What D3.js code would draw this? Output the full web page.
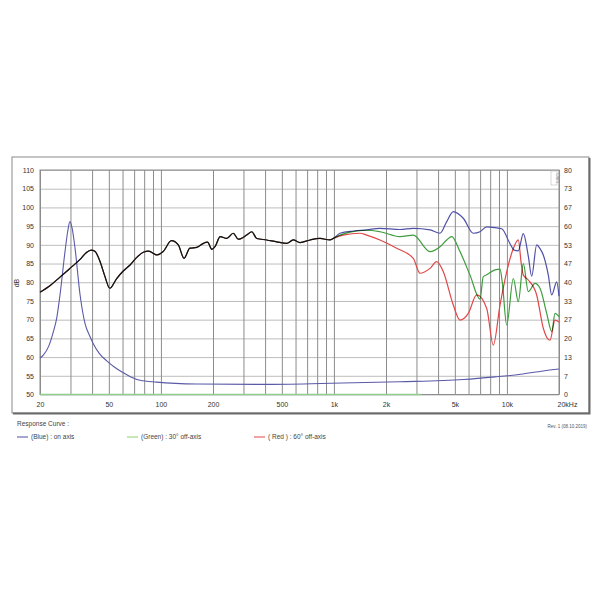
<!DOCTYPE html>
<html><head><meta charset="utf-8">
<script src="https://cdn.jsdelivr.net/npm/d3@7"></script>
<style>body{margin:0;background:#fff}svg{display:block}text{font-family:"Liberation Sans",Arial,sans-serif}</style>
</head><body><svg id="c" width="600" height="600"></svg>
<script>
// ---------- data ----------
const dbTicks = [50,55,60,65,70,75,80,85,90,95,100,105,110];
const ohmLabels = ["0","7","13","20","27","33","40","47","53","60","67","73","80"];
const freqGrid = [20,30,40,50,60,70,80,90,100,200,300,400,500,600,700,800,900,1000,2000,3000,4000,5000,6000,7000,8000,9000,10000,20000];
const freqLabelValues = [20,50,100,200,500,1000,2000,5000,10000,20000];
const freqLabelTexts = ["20","50","100","200","500","1k","2k","5k","10k","20kHz"];

// shared response below ~1 kHz (all three curves overlap)
const commonLow = [[20,77.3],[23,79.2],[26,81.3],[29.8,83.7],[34.1,86.1],[37,87.9],[39.5,88.6],[41.5,88.3],[44.5,85.5],[47.5,81.5],[50.6,78.4],[55.5,81],[60.6,83],[66.3,84.6],[72,86.5],[79.1,88],[85,88.3],[94.5,87.3],[103,88.2],[115,91.1],[126,90],[136,86.4],[147,89.1],[161,89.3],[176,90.4],[186,90.7],[197,88.8],[206,89.6],[220,92.2],[240,91.7],[262,93.1],[280,91.5],[313,92.6],[335,93.5],[358,91.7],[409,91.3],[467,90.8],[533,90.4],[582,91.3],[637,90.6],[727,91.3],[831,91.7],[949,91.3],[1000,91.8]];
const blueOnAxis = [[1084,93.1],[1294,93.7],[1547,94],[1846,94.4],[2410,94.1],[2876,94.4],[3592,94],[4104,93.1],[4488,96.2],[4898,98.9],[5594,97.1],[6394,93.1],[6990,93.5],[7642,94.8],[8532,94.6],[9332,94.3],[10420,90.3],[11000,88.6],[11636,88.4],[12438,93],[13290,87],[13906,81.6],[14860,90],[15532,89],[16226,87.3],[17340,82],[18152,76.6],[19400,80.1],[20000,76.3]];
const green30 = [[1084,92.6],[1239,93.4],[1547,93.9],[1846,93.5],[2410,92.2],[2876,92.6],[3592,88.2],[4104,89.5],[4488,91.3],[4796,92.2],[5354,88.2],[6118,81.9],[6990,75.5],[7300,81.5],[7642,82],[8532,83.3],[9120,83.5],[9400,80],[9970,68.6],[10888,81],[11636,74.8],[12438,85],[13290,77.5],[14532,79.7],[15532,78.4],[16980,71.7],[18152,66.8],[18970,71.7],[20000,70.8]];
const red60 = [[1133,92.6],[1415,93.1],[1547,92.6],[1846,91.3],[2306,89.1],[2876,86.4],[3144,82.4],[3592,83.7],[3926,85.5],[4289,82.8],[4898,73.9],[5354,69.9],[5980,71.7],[6690,76.6],[7642,73],[8342,63.2],[9120,73.9],[9970,82.8],[10888,89],[11636,91.3],[12100,85],[12438,81.9],[13290,80.6],[14860,76.6],[16226,67.7],[17740,64.5],[18970,69.9],[20000,69.4]];
const impedance = [[20,59.7],[20.9,60.5],[22.5,63],[23.9,66.8],[25,70.5],[26.1,76.6],[27.9,88.2],[28.9,93.5],[29.8,96.2],[30.8,94],[31.9,89],[34.1,76.6],[36.4,69],[38.9,65.5],[40.7,63.5],[44,61],[48.6,59],[54,57.3],[60.6,55.8],[67,54.7],[75.7,53.8],[94.5,53.3],[161,52.8],[389,52.7],[949,53],[2400,53.4],[5594,54],[8532,54.7],[12000,55.4],[16226,56.3],[20000,56.8]];
const greenBaseline = [[20,50],[3200,50]];

const series = [
  {name:"( Red ) : 60° off-axis", color:"#e04848", pts: commonLow.concat(red60)},
  {name:"(Green) : 30° off-axis", color:"#3c9e3c", pts: commonLow.concat(green30)},
  {name:"(Blue) : on axis", color:"#5050a8", pts: commonLow.concat(blueOnAxis)}
];
const legendOrder = [
  {text:"(Blue) : on axis", color:"#4c4ca6"},
  {text:"(Green) : 30° off-axis", color:"#8fcf6f"},
  {text:"( Red ) : 60° off-axis", color:"#e04848"}
];

// ---------- layout ----------
const L=40, R=559, T=170, B=394.5;
const svg = d3.select("#c");
const x = d3.scaleLog().domain([20,20000]).range([L,R]);
const y = d3.scaleLinear().domain([50,110]).range([B,T]);
const yR = d3.scaleLinear().domain([0,12]).range([B,T]);

// outer frame
svg.append("rect").attr("x",12).attr("y",157).attr("width",577).attr("height",256)
  .attr("fill","#fff").attr("stroke","#8a8a8a").attr("stroke-width",1);
svg.append("path").attr("d","M13,413.5H589.5V158").attr("fill","none").attr("stroke","#6a6a6a").attr("stroke-width",2);

// horizontal grid
svg.append("g").attr("transform",`translate(${L},0)`)
  .call(d3.axisLeft(y).tickValues(dbTicks).tickSize(-(R-L)).tickFormat(""))
  .call(g=>{g.select(".domain").remove();g.selectAll("line").attr("stroke","#bdbdbd");});
// vertical grid
svg.append("g").attr("transform",`translate(0,${B})`)
  .call(d3.axisBottom(x).tickValues(freqGrid).tickSize(-(B-T)).tickFormat(""))
  .call(g=>{g.select(".domain").remove();g.selectAll("line").attr("stroke","#8c8c8c");});
// plot border
svg.append("rect").attr("x",L).attr("y",T).attr("width",R-L).attr("height",B-T)
  .attr("fill","none").attr("stroke","#8c8c8c").attr("stroke-width",1);

// left axis labels
svg.append("g").attr("transform",`translate(${L},0)`)
  .call(d3.axisLeft(y).tickValues(dbTicks).tickSize(0).tickPadding(6).tickFormat(d3.format("d")))
  .call(g=>{g.select(".domain").remove();g.selectAll("text").attr("font-size",7).attr("fill","#333");});
// right axis labels
svg.append("g").attr("transform",`translate(${R},0)`)
  .call(d3.axisRight(yR).tickValues(d3.range(13)).tickSize(0).tickPadding(5).tickFormat(i=>ohmLabels[i]))
  .call(g=>{g.select(".domain").remove();g.selectAll("text").attr("font-size",7).attr("fill","#333");});
// bottom labels
svg.append("g").attr("transform",`translate(0,${B})`)
  .call(d3.axisBottom(x).tickValues(freqLabelValues).tickSize(0).tickPadding(8).tickFormat((d,i)=>freqLabelTexts[i]))
  .call(g=>{g.select(".domain").remove();g.selectAll("text").attr("font-size",7).attr("fill","#333");
    g.selectAll(".tick").filter(d=>d===20000).select("text").attr("dx",8);});

// dB label
svg.append("text").attr("transform","translate(19,283) rotate(-90)").attr("text-anchor","middle")
  .attr("font-size",7).attr("fill","#333").text("dB");
// ohm box top-right
svg.append("rect").attr("x",551).attr("y",171).attr("width",6).attr("height",14).attr("fill","none").attr("stroke","#bbb").attr("stroke-width",0.6);
svg.append("text").attr("transform","translate(555.5,178) rotate(90)").attr("text-anchor","middle")
  .attr("font-size",4.5).attr("fill","#999").text("Ohm");

// curves
const line = d3.line().x(d=>x(d[0])).y(d=>y(d[1])).curve(d3.curveMonotoneX);
const gc = svg.append("g").style("isolation","isolate");
gc.append("path").datum(greenBaseline).attr("d",line).attr("fill","none").attr("stroke","#8fd08f").attr("stroke-width",1.4);
gc.append("path").datum(impedance).attr("d",line).attr("fill","none").attr("stroke","#5a5aa8").attr("stroke-width",1.1);
series.forEach(s=>{
  gc.append("path").datum(s.pts).attr("d",line).attr("fill","none").attr("stroke",s.color)
    .attr("stroke-width",1.2).style("mix-blend-mode","multiply");
});

// legend
svg.append("text").attr("x",17).attr("y",426).attr("font-size",6.5).attr("fill","#444").text("Response Curve :");
const lx=[17,127,254];
legendOrder.forEach((d,i)=>{
  svg.append("line").attr("x1",lx[i]).attr("x2",lx[i]+11).attr("y1",437).attr("y2",437).attr("stroke",d.color).attr("stroke-width",1);
  svg.append("text").attr("x",lx[i]+14).attr("y",439).attr("font-size",6.5).attr("fill","#444").text(d.text);
});
svg.append("text").attr("x",587).attr("y",428).attr("text-anchor","end").attr("font-size",4.5).attr("fill","#555").text("Rev. 1 (08.10.2019)");
</script></body></html>
